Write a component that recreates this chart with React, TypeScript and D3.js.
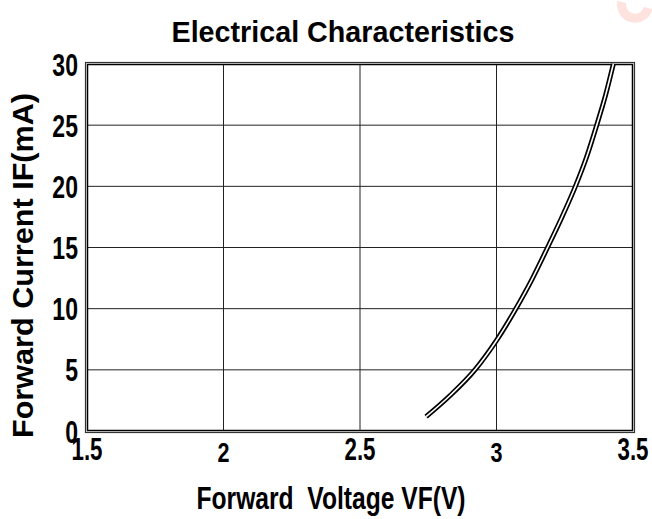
import React from "react";
import * as d3 from "d3";

const voltage = [2.742, 2.83, 2.921, 3.0, 3.071, 3.13, 3.187, 3.24, 3.289, 3.33, 3.367, 3.4, 3.428];
const current = [1.17, 2.9, 5.0, 7.4, 10.0, 12.4, 15.0, 17.5, 20.0, 22.4, 25.0, 27.5, 30.0];
const xTicks = [1.5, 2, 2.5, 3, 3.5];
const yTicks = [0, 5, 10, 15, 20, 25, 30];
const xTickLabels = ["1.5", "2", "2.5", "3", "3.5"];
const yTickLabels = ["0", "5", "10", "15", "20", "25", "30"];

const W = 652, H = 519;
const L = 87, R = 633, T = 64, B = 431;
const sans = "'Liberation Sans', Arial, sans-serif";

export default function App() {
  const x = d3.scaleLinear().domain([1.5, 3.5]).range([L, R]);
  const y = d3.scaleLinear().domain([0, 30]).range([B, T]);
  const pts: [number, number][] = voltage.map((v, i) => [v, current[i]]);
  const line = d3.line<[number, number]>().x(d => x(d[0])).y(d => y(d[1])).curve(d3.curveMonotoneX);
  const path = line(pts) || "";
  return (
    <svg width={W} height={H} style={{ position: "absolute", left: 0, top: 0, background: "#fff" }}>
      <rect x={0} y={0} width={W} height={H} fill="#fff" />
      <path d="M 622 2 A 13 13 0 0 0 648 8" fill="none" stroke="#fde2de" strokeWidth={9} />
      <text x={343} y={42} textAnchor="middle" fontFamily={sans} fontWeight="bold" fontSize={29} textLength={343} lengthAdjust="spacingAndGlyphs">Electrical Characteristics</text>
      {xTicks.slice(1, -1).map(t => (
        <line key={"gx" + t} x1={x(t)} x2={x(t)} y1={T} y2={B} stroke="#222" strokeWidth={1} />
      ))}
      {yTicks.slice(1, -1).map(t => (
        <line key={"gy" + t} x1={L} x2={R} y1={y(t)} y2={y(t)} stroke="#222" strokeWidth={1} />
      ))}
      <rect x={L - 1.5} y={T - 1.5} width={R - L + 3} height={B - T + 3} fill="none" stroke="#333" strokeWidth={1.2} />
      <rect x={L + 0.5} y={T + 0.5} width={R - L - 1} height={B - T - 1} fill="none" stroke="#000" strokeWidth={1.5} />
      <path d={path} fill="none" stroke="#000" strokeWidth={5} strokeLinecap="butt" />
      <path d={path} fill="none" stroke="#fff" strokeWidth={1.6} strokeLinecap="butt" />
      {yTicks.map((t, i) => (
        <text key={"yl" + t} transform={`translate(78, ${y(t) + 11.5}) scale(0.72, 1)`} textAnchor="end" fontFamily={sans} fontWeight="bold" fontSize={32}>{yTickLabels[i]}</text>
      ))}
      {xTicks.map((t, i) => {
        const isInt = Number.isInteger(t);
        return (
          <text key={"xl" + t} transform={`translate(${x(t)}, ${isInt ? 462 : 460}) scale(${isInt ? 0.8 : 0.72}, 1)`} textAnchor="middle" fontFamily={sans} fontWeight="bold" fontSize={isInt ? 27 : 31}>{xTickLabels[i]}</text>
        );
      })}
      <text x={331} y={509} textAnchor="middle" fontFamily={sans} fontWeight="bold" fontSize={31} textLength={269} lengthAdjust="spacingAndGlyphs" xmlSpace="preserve">Forward  Voltage VF(V)</text>
      <text transform={`translate(33, 265.5) rotate(-90)`} textAnchor="middle" fontFamily={sans} fontWeight="bold" fontSize={29} textLength={345} lengthAdjust="spacingAndGlyphs">Forward Current IF(mA)</text>
    </svg>
  );
}
